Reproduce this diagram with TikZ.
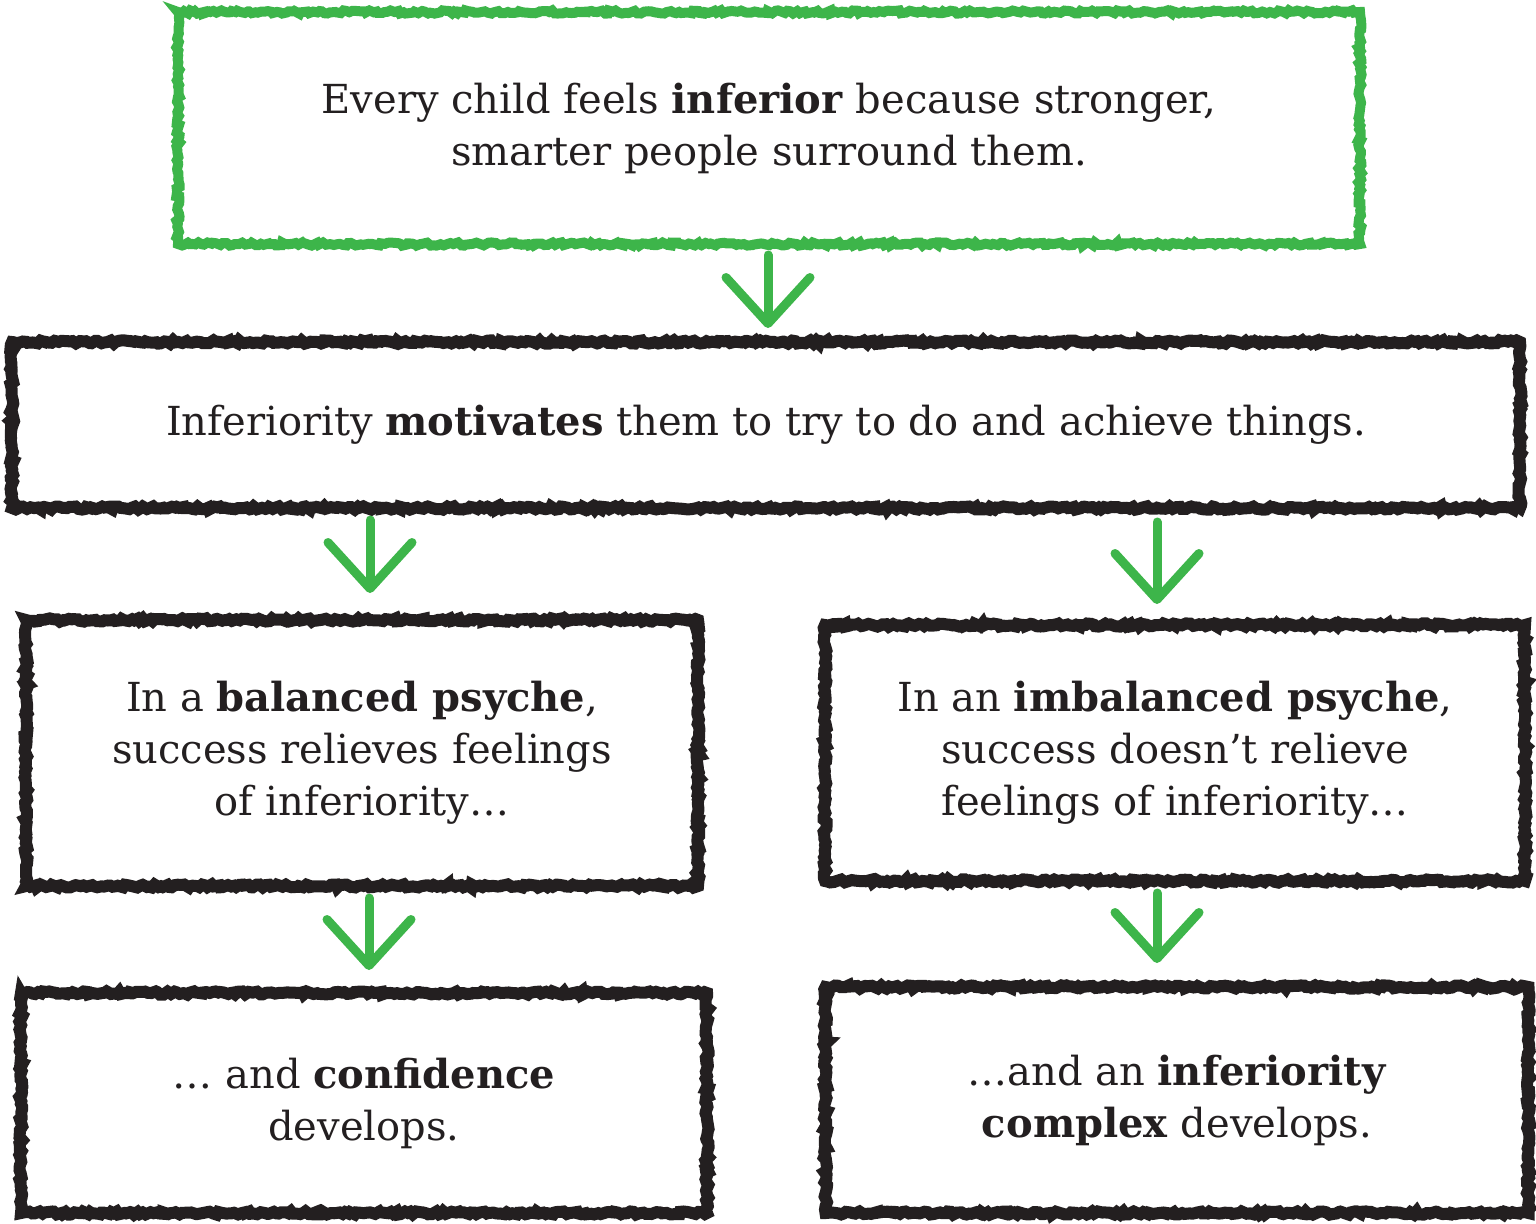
\documentclass[tikz,border=0pt]{standalone}
\usepackage{fontspec}
\setmainfont{DejaVu Serif}
\usetikzlibrary{arrows.meta,decorations.pathmorphing}
\definecolor{cgreen}{HTML}{3DB54A}
\definecolor{cink}{HTML}{231F20}
\tikzset{
  roughbox/.style={draw=cink, line width=12pt, decorate,
    decoration={random steps, segment length=3pt, amplitude=1.6pt},
    align=center, text=cink, inner sep=0pt,
    font=\fontsize{40pt}{52pt}\selectfont},
  greenbox/.style={roughbox, draw=cgreen, line width=10pt},
  arr/.style={draw=cgreen, line width=9pt, line cap=round,
    -{Straight Barb[round, length=46pt, width=84pt]}},
}
\begin{document}
\begin{tikzpicture}[x=1pt,y=-1pt]
\useasboundingbox (0,0) rectangle (1536,1223);
\node[greenbox, minimum width=1182pt, minimum height=232pt] (top) at (769,128)
  {Every child feels \textbf{inferior} because stronger,\\smarter people surround them.};
\node[roughbox, minimum width=1508pt, minimum height=166pt] (b2) at (766,425)
  {Inferiority \textbf{motivates} them to try to do and achieve things.};
\node[roughbox, minimum width=672pt, minimum height=266pt] (b3l) at (362,753)
  {In a \textbf{balanced psyche},\\success relieves feelings\\of inferiority…};
\node[roughbox, minimum width=700pt, minimum height=256pt] (b3r) at (1175,753)
  {In an \textbf{imbalanced psyche},\\success doesn’t relieve\\feelings of inferiority…};
\node[roughbox, minimum width=686pt, minimum height=220pt] (b4l) at (364,1103)
  {… and \textbf{confidence}\\develops.};
\node[roughbox, minimum width=703pt, minimum height=226pt] (b4r) at (1177,1100)
  {…and an \textbf{inferiority}\\\textbf{complex} develops.};
\coordinate (xa) at (768,0);
\coordinate (xb) at (370,0);
\coordinate (xc) at (1157,0);
\coordinate (xd) at (369,0);
\draw[arr, shorten <=6pt, shorten >=8pt] (top.south -| xa) -- (b2.north -| xa);
\draw[arr, shorten <=6pt, shorten >=21pt] (b2.south -| xb) -- (b3l.north -| xb);
\draw[arr, shorten <=8pt, shorten >=15pt] (b2.south -| xc) -- (b3r.north -| xc);
\draw[arr, shorten <=6pt, shorten >=17pt] (b3l.south -| xd) -- (b4l.north -| xd);
\draw[arr, shorten <=6pt, shorten >=18pt] (b3r.south -| xc) -- (b4r.north -| xc);
\end{tikzpicture}
\end{document}
